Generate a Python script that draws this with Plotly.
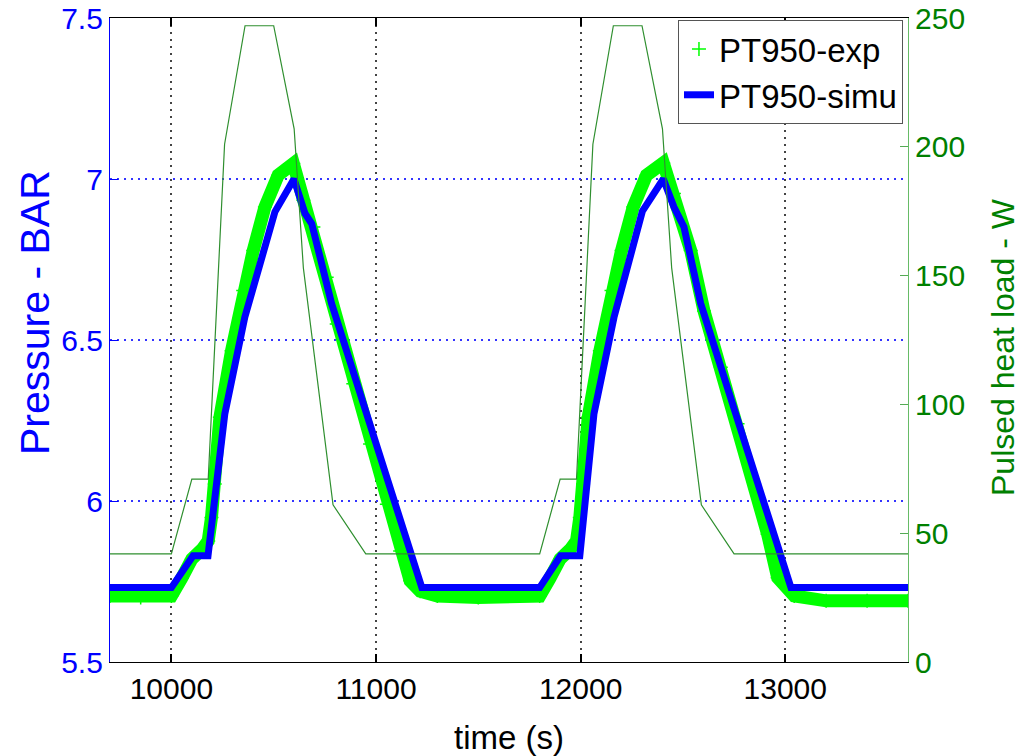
import plotly.graph_objects as go

# ---- data ----
# Pulsed heat load (W), right axis
heat_t = [9700, 10000, 10100, 10180, 10260, 10360, 10500, 10600, 10645, 10790, 10950,
          11800, 11900, 11980, 12060, 12160, 12300, 12400, 12445, 12590, 12750, 13600]
heat_w = [42, 42, 71, 71, 201, 247, 247, 207, 153, 61, 42,
          42, 71, 71, 201, 247, 247, 207, 153, 61, 42, 42]

# PT950 experimental pressure (BAR)
exp_t = [9700, 9850, 10000, 10050, 10100, 10150, 10180, 10196, 10212, 10237, 10294, 10351,
         10400, 10457, 10522, 10596, 10645, 10694, 10759, 10808, 10889, 10971, 11053, 11118,
         11167, 11216, 11300, 11500, 11700, 11800, 11850, 11900, 11950, 11980, 11996, 12012,
         12037, 12094, 12151, 12200, 12257, 12322, 12404, 12456, 12538, 12603, 12685, 12767,
         12848, 12914, 12963, 13044, 13200, 13400, 13600]
exp_p = [5.705, 5.70, 5.705, 5.76, 5.82, 5.85, 5.876, 5.949, 6.053, 6.26, 6.467, 6.654,
         6.778, 6.913, 7.012, 7.048, 6.934, 6.851, 6.695, 6.55, 6.364, 6.177, 5.99, 5.845,
         5.752, 5.72, 5.705, 5.70, 5.705, 5.705, 5.76, 5.82, 5.85, 5.876, 5.949, 6.053,
         6.26, 6.467, 6.654, 6.778, 6.913, 7.012, 7.05, 6.955, 6.778, 6.59, 6.415, 6.24,
         6.053, 5.897, 5.762, 5.705, 5.69, 5.69, 5.69]

# PT950 simulated pressure (BAR)
simu_t = [9700, 10000, 10106, 10179, 10261, 10359, 10506, 10599, 10653, 10686, 10783, 11224,
          11800, 11902, 11996, 12065, 12163, 12302, 12404, 12456, 12505, 12587, 13028, 13600]
simu_p = [5.731, 5.731, 5.83, 5.83, 6.27, 6.571, 6.898, 7.0, 6.893, 6.861, 6.613, 5.731,
          5.731, 5.83, 5.83, 6.27, 6.57, 6.90, 7.0, 6.913, 6.851, 6.613, 5.731, 5.731]

x_ticks = [10000, 11000, 12000, 13000]
y_ticks = [5.5, 6, 6.5, 7, 7.5]
y_ticktext = ["5.5", "6", "6.5", "7", "7.5"]
y2_ticks = [0, 50, 100, 150, 200, 250]

FONT = "Liberation Sans, Arial, sans-serif"
BLUE = "#0000FF"
LIME = "#00FF00"
GREEN_TXT = "#008000"
HEAT = "#2F8F2F"

fig = go.Figure()

# experimental band
fig.add_trace(go.Scatter(x=exp_t, y=exp_p, mode="lines",
                         line=dict(color=LIME, width=13), showlegend=False,
                         hoverinfo="skip"))
# experimental markers (legend entry)
fig.add_trace(go.Scatter(x=exp_t, y=exp_p, mode="markers", name="PT950-exp",
                         marker=dict(symbol="cross-thin", size=10, color=LIME,
                                     line=dict(color=LIME, width=1.5))))
# simulation
fig.add_trace(go.Scatter(x=simu_t, y=simu_p, mode="lines", name="PT950-simu",
                         line=dict(color=BLUE, width=7)))
# heat load on right axis
fig.add_trace(go.Scatter(x=heat_t, y=heat_w, mode="lines", yaxis="y2",
                         line=dict(color=HEAT, width=1.2), showlegend=False))

fig.update_layout(
    width=1022, height=756,
    margin=dict(l=110, r=114, t=18, b=94),
    paper_bgcolor="white", plot_bgcolor="white",
    font=dict(family=FONT, size=30, color="black"),
    xaxis=dict(range=[9700, 13600], tickvals=x_ticks, ticktext=[str(v) for v in x_ticks],
               ticks="inside", ticklen=8, tickcolor="black", tickwidth=1.5,
               showline=True, linecolor="black", linewidth=1.2, mirror="ticks",
               showgrid=True, gridcolor="#444444", griddash="2px,5px", gridwidth=1.6,
               zeroline=False, automargin=False,
               tickfont=dict(size=30, color="black")),
    yaxis=dict(range=[5.5, 7.5], tickvals=y_ticks, ticktext=y_ticktext,
               ticks="inside", ticklen=8, tickcolor=BLUE,
               showline=True, linecolor=BLUE, linewidth=1.2,
               showgrid=True, gridcolor="#3333FF", griddash="2px,5px", gridwidth=1.5,
               zeroline=False, automargin=False,
               tickfont=dict(size=30, color=BLUE)),
    yaxis2=dict(range=[0, 250], tickvals=y2_ticks, overlaying="y", side="right",
                ticks="inside", ticklen=8, tickcolor="#55AA55",
                showline=True, linecolor="#66BB66", linewidth=1.2,
                showgrid=False, zeroline=False, automargin=False,
                tickfont=dict(size=30, color=GREEN_TXT)),
    legend=dict(x=0.9937, xanchor="right", y=0.997, yanchor="top",
                bgcolor="white", bordercolor="#555555", borderwidth=1,
                font=dict(size=33, color="black"), tracegroupgap=0, itemwidth=30),
    annotations=[
        dict(text="time (s)", xref="paper", yref="paper",
             x=(509 - 110) / 798, y=(662 - 737) / 644, xanchor="center", yanchor="middle",
             showarrow=False, font=dict(size=33, color="black")),
        dict(text="Pressure - BAR", xref="paper", yref="paper", textangle=-90,
             x=(35 - 110) / 798, y=(662 - 313) / 644, xanchor="center", yanchor="middle",
             showarrow=False, font=dict(size=41, color=BLUE)),
        dict(text="Pulsed heat load - W", xref="paper", yref="paper", textangle=-90,
             x=(1003 - 110) / 798, y=(662 - 347) / 644, xanchor="center", yanchor="middle",
             showarrow=False, font=dict(size=32, color=GREEN_TXT)),
    ],
)

fig.write_html("out.html")
